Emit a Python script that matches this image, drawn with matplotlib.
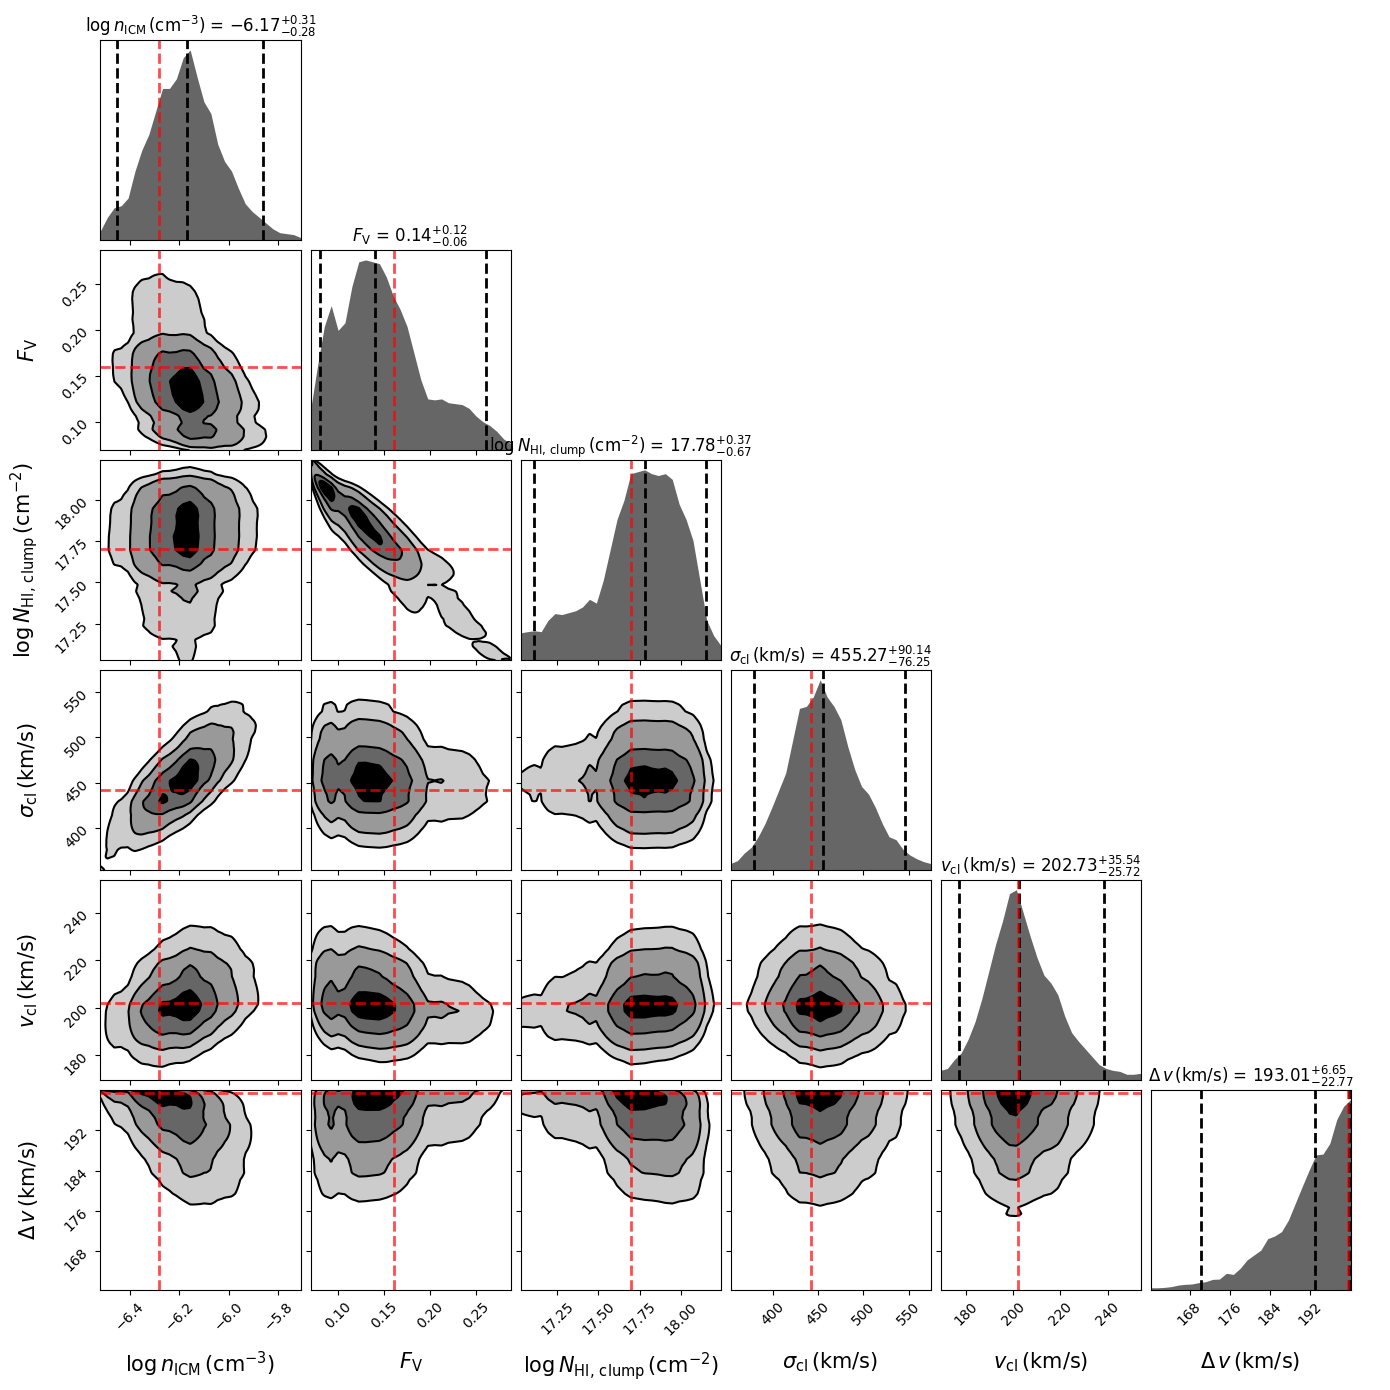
import math
import numpy as np
import matplotlib
matplotlib.use("Agg")
import matplotlib.pyplot as plt

# parameter labels
labels = [r"$\log n_{\rm ICM}\,({\rm cm^{-3}})$",
          r"$F_{\rm V}$",
          r"$\log N_{\rm HI,\,clump}\,({\rm cm^{-2}})$",
          r"$\sigma_{\rm cl}\,({\rm km/s})$",
          r"$v_{\rm cl}\,({\rm km/s})$",
          r"$\Delta\,v\,({\rm km/s})$"]

# plotted ranges
lo = [-6.5175, 0.0696, 17.027, 353.7, 169.4, 160.25]
hi = [-5.71, 0.287, 18.241, 573.8, 253.8, 200.0]

truths = [-6.28, 0.16, 17.70, 442.0, 202.0, 199.5]
medians = [-6.17, 0.14, 17.78, 455.27, 202.73, 193.01]
err_plus = [0.31, 0.12, 0.37, 90.14, 35.54, 6.65]
err_minus = [0.28, 0.06, 0.67, 76.25, 25.72, 22.77]

ticks = [[-6.4, -6.2, -6.0, -5.8],
         [0.10, 0.15, 0.20, 0.25],
         [17.25, 17.50, 17.75, 18.00],
         [400, 450, 500, 550],
         [180, 200, 220, 240],
         [168, 176, 184, 192]]

# 1D marginals, relative heights read across each range
hist_logn = [0.05, 0.12, 0.17, 0.18, 0.22, 0.36, 0.47, 0.55, 0.67, 0.79,
             0.79, 0.84, 0.95, 0.99, 0.85, 0.72, 0.66, 0.50, 0.41, 0.36,
             0.27, 0.19, 0.15, 0.12, 0.09, 0.06, 0.04, 0.035, 0.03, 0.015]
hist_fv = [0.21, 0.44, 0.65, 0.76, 0.63, 0.67, 0.86, 0.99, 1.0, 0.99,
           0.98, 0.91, 0.81, 0.74, 0.65, 0.51, 0.37, 0.27, 0.265, 0.27,
           0.25, 0.245, 0.24, 0.22, 0.18, 0.15, 0.13, 0.10, 0.06, 0.035]
hist_logN = [0.144, 0.15, 0.155, 0.15, 0.21, 0.245, 0.24, 0.25, 0.26, 0.28,
             0.32, 0.30, 0.42, 0.58, 0.74, 0.84, 0.98, 0.99, 1.0, 0.98,
             0.97, 0.98, 0.95, 0.82, 0.74, 0.63, 0.42, 0.21, 0.13, 0.08]
hist_sigma = [0.035, 0.05, 0.09, 0.12, 0.175, 0.245, 0.33, 0.42, 0.51, 0.68,
              0.85, 0.86, 0.91, 1.0, 0.91, 0.86, 0.79, 0.65, 0.53, 0.44,
              0.40, 0.33, 0.245, 0.175, 0.16, 0.11, 0.08, 0.06, 0.045, 0.035]
hist_v = [0.05, 0.06, 0.105, 0.14, 0.21, 0.30, 0.42, 0.56, 0.70, 0.82,
          0.96, 0.98, 0.86, 0.74, 0.63, 0.54, 0.50, 0.44, 0.33, 0.245,
          0.20, 0.16, 0.12, 0.08, 0.06, 0.05, 0.045, 0.03, 0.03, 0.035]
hist_dv = [0.012, 0.012, 0.014, 0.018, 0.026, 0.03, 0.032, 0.039, 0.044, 0.056,
           0.058, 0.088, 0.082, 0.114, 0.158, 0.184, 0.21, 0.27, 0.284, 0.307,
           0.368, 0.456, 0.544, 0.63, 0.71, 0.714, 0.77, 0.895, 0.965, 1.0]
hists = [hist_logn, hist_fv, hist_logN, hist_sigma, hist_v, hist_dv]

# correlation of each pair (row, col)
rho = {(1, 0): -0.35,
       (2, 0): 0.05, (2, 1): -0.88,
       (3, 0): 0.72, (3, 1): -0.10, (3, 2): 0.0,
       (4, 0): 0.30, (4, 1): -0.20, (4, 2): 0.10, (4, 3): -0.05,
       (5, 0): -0.40, (5, 1): 0.10, (5, 2): -0.20, (5, 3): 0.0, (5, 4): 0.0}

mass_levels = [0.118, 0.393, 0.675, 0.865]
fill_colors = [(0, 0, 0, 0.0), (0, 0, 0, 0.2), (0, 0, 0, 0.4), (0, 0, 0, 0.6), (0, 0, 0, 1.0)]

zt = np.linspace(-6, 6, 3001)
phi = 0.5 * (1 + np.array([math.erf(z / math.sqrt(2)) for z in zt]))


def marginal(k, n=200):
    g = np.linspace(lo[k], hi[k], n)
    xs = np.linspace(lo[k], hi[k], len(hists[k]))
    f = np.interp(g, xs, hists[k])
    c = (np.cumsum(f) - 0.5 * f) / f.sum()
    z = np.interp(c, phi, zt)
    return g, f, z


def density(j, i, r):
    gx, fx, zx = marginal(j)
    gy, fy, zy = marginal(i)
    ZX, ZY = np.meshgrid(zx, zy)
    cop = np.exp(-(r**2 * (ZX**2 + ZY**2) - 2 * r * ZX * ZY) / (2 * (1 - r**2)))
    H = cop * np.outer(fy, fx) / np.sqrt(1 - r**2)
    return gx, gy, H


def find_levels(H):
    Hflat = np.sort(H.flatten())[::-1]
    sm = np.cumsum(Hflat)
    sm /= sm[-1]
    V = np.array([Hflat[sm <= v][-1] for v in mass_levels])
    V.sort()
    return V


fig, axes = plt.subplots(6, 6, figsize=(13.9, 13.9), dpi=100)
fig.subplots_adjust(left=0.0723, right=0.9716, bottom=0.0719, top=0.9709,
                    wspace=0.05, hspace=0.05)

n = len(labels)
for i in range(n):
    for j in range(n):
        ax = axes[i, j]
        if j > i:
            ax.set_visible(False)
            continue
        if i == j:
            xs = np.linspace(lo[i], hi[i], len(hists[i]))
            ax.fill_between(xs, hists[i], color="#666666", lw=0)
            q = [medians[i] - err_minus[i], medians[i], medians[i] + err_plus[i]]
            for qq in q:
                ax.axvline(qq, color="k", ls="--", lw=2)
            ax.axvline(truths[i], color="red", alpha=0.7, ls="--", lw=2)
            ax.set_ylim(0, 1.05 * max(hists[i]))
            ax.set_yticks([])
            ax.set_title("{0} = ${1:.2f}_{{-{2:.2f}}}^{{+{3:.2f}}}$".format(
                labels[i], medians[i], err_minus[i], err_plus[i]), fontsize=12)
        else:
            gx, gy, H = density(j, i, rho[(i, j)])
            V = find_levels(H)
            ax.contourf(gx, gy, H, np.concatenate([[H.min()], V, [H.max() * 1.0001]]),
                        colors=fill_colors)
            ax.contour(gx, gy, H, V, colors="k", linewidths=1.5)
            ax.axvline(truths[j], color="red", alpha=0.7, ls="--", lw=2)
            ax.axhline(truths[i], color="red", alpha=0.7, ls="--", lw=2)
            ax.set_ylim(lo[i], hi[i])
            ax.set_yticks(ticks[i])
            if j == 0:
                for t in ax.get_yticklabels():
                    t.set_rotation(45)
                ax.set_ylabel(labels[i], fontsize=15)
                ax.yaxis.set_label_coords(-0.3, 0.5)
            else:
                ax.set_yticklabels([])
        ax.set_xlim(lo[j], hi[j])
        ax.set_xticks(ticks[j])
        if i == n - 1:
            for t in ax.get_xticklabels():
                t.set_rotation(45)
            ax.set_xlabel(labels[j], fontsize=15)
            ax.xaxis.set_label_coords(0.5, -0.3)
        else:
            ax.set_xticklabels([])

fig.savefig("out.png", dpi=100)
